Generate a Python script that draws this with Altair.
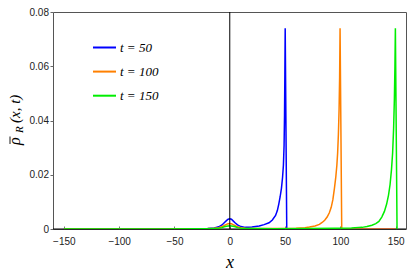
import altair as alt
import pandas as pd

series_names = ["t = 50", "t = 100", "t = 150"]
series_colors = ["#0000ff", "#ff8000", "#00ee00"]

xs_50 = [-150, -60, -30, -20, -14, -10, -7, -5, -3, -1.5, 0, 1.5, 3, 5, 7, 10, 14, 20,
         26.6, 31, 35.5, 38.5, 41.4, 43, 44.3, 45.5, 46.7, 47.7, 48.5, 49.1, 49.5, 49.8,
         50.1, 51.5, 60, 100, 150]
ys_50 = [0, 0.00005, 0.0001, 0.0002, 0.0004, 0.0008, 0.0015, 0.0023, 0.0031, 0.0036,
         0.0038, 0.0036, 0.0030, 0.0022, 0.0015, 0.0009, 0.0006, 0.0007, 0.0011, 0.0016,
         0.0023, 0.0033, 0.005, 0.0068, 0.0092, 0.0118, 0.015, 0.019, 0.0236, 0.031,
         0.042, 0.057, 0.074, 0, 0, 0, 0]

xs_100 = [-150, -60, -30, -20, -14, -10, -7, -5, -3, -1.5, 0, 1.5, 3, 5, 7, 10, 14, 20,
          30, 45, 60, 68, 72, 77, 81, 83.5, 85.8, 88, 90, 91.7, 93.2, 94.6, 95.8, 96.8,
          97.5, 98.2, 98.8, 99.3, 99.7, 101.2, 110, 150]
ys_100 = [0, 0.00003, 0.00008, 0.00015, 0.0003, 0.0005, 0.0009, 0.0013, 0.0017, 0.0019,
          0.0020, 0.0019, 0.0016, 0.0012, 0.0008, 0.0005, 0.0003, 0.0002, 0.0002, 0.0002,
          0.0003, 0.0005, 0.0007, 0.0011, 0.0017, 0.0024, 0.0032, 0.0044, 0.006, 0.008,
          0.0108, 0.015, 0.019, 0.0235, 0.028, 0.035, 0.044, 0.056, 0.074, 0, 0, 0]

xs_150 = [-150, -60, -30, -20, -14, -10, -7, -5, -3, -1.5, 0, 1.5, 3, 5, 7, 10, 14, 20,
          40, 70, 95, 110, 119.7, 124, 128.5, 132, 134.8, 137.4, 139.8, 141.8, 143.5,
          144.9, 146.2, 147.2, 148.1, 148.8, 149.3, 149.7, 151.2]
ys_150 = [0, 0.00002, 0.00005, 0.0001, 0.0002, 0.0003, 0.0005, 0.0008, 0.001, 0.0011,
          0.0012, 0.0011, 0.001, 0.0008, 0.0005, 0.0003, 0.0002, 0.00015, 0.0001, 0.0002,
          0.0003, 0.0004, 0.0006, 0.0009, 0.0014, 0.002, 0.0028, 0.0044, 0.0065, 0.0092,
          0.0125, 0.0164, 0.022, 0.028, 0.037, 0.048, 0.06, 0.074, 0]

x_ticks = [-150, -100, -50, 0, 50, 100, 150]
y_ticks = [0, 0.02, 0.04, 0.06, 0.08]

rows = []
for name, xs, ys in zip(series_names, [xs_50, xs_100, xs_150], [ys_50, ys_100, ys_150]):
    for xv, yv in zip(xs, ys):
        rows.append({"series": name, "x": xv, "rho": yv})
df = pd.DataFrame(rows)

x_scale = alt.Scale(domain=[-159.8, 159.3], nice=False, zero=False)
y_scale = alt.Scale(domain=[0, 0.08], nice=False)

SANS = "Liberation Sans"
SERIF = "Liberation Serif"

base_x = alt.X(
    "x:Q", scale=x_scale,
    axis=alt.Axis(values=x_ticks, offset=-3, domain=False, tickSize=3, tickColor="#777",
                  labelPadding=7, labelFont=SANS, labelFontSize=10, labelColor="#222",
                  labelExpr="replace(datum.label, '-', '\u2212')",
                  grid=False, title="x", titleFont=SERIF, titleFontStyle="italic",
                  titleFontWeight="normal", titleFontSize=18, titleY=41,
                  titleBaseline="alphabetic", titleColor="#000"),
)
base_y = alt.Y(
    "rho:Q", scale=y_scale,
    axis=alt.Axis(values=y_ticks, domain=False, tickSize=3, tickColor="#666",
                  labelPadding=1.5, labelFont=SANS, labelFontSize=10, labelColor="#222",
                  labelExpr="datum.value == 0 ? '0' : format(datum.value, '.2f')",
                  grid=False, title=None),
)

hline = alt.Chart(pd.DataFrame({"rho": [0]})).mark_rule(color="black", strokeWidth=1).encode(
    y=alt.Y("rho:Q", scale=y_scale)
)

lines = alt.Chart(df).mark_line(strokeWidth=1.5, clip=True).encode(
    x=base_x,
    y=base_y,
    color=alt.Color(
        "series:N", sort=series_names,
        scale=alt.Scale(domain=series_names, range=series_colors),
        legend=alt.Legend(title=None, orient="none", legendX=39, legendY=23,
                          symbolType="stroke", symbolSize=529, symbolStrokeWidth=2,
                          labelFont=SERIF, labelFontStyle="italic", labelFontSize=13,
                          labelColor="#000", labelOffset=3, rowPadding=4.1, padding=0),
    ),
    order=alt.Order("x:Q"),
)

vline = alt.Chart(pd.DataFrame({"x": [0]})).mark_rule(color="black", strokeWidth=1).encode(
    x=alt.X("x:Q", scale=x_scale)
)

one = pd.DataFrame({"a": [0]})
t_rho = alt.Chart(one).mark_text(angle=270, align="left", baseline="alphabetic", font=SERIF,
                                 fontStyle="italic", fontSize=16, color="#000").encode(
    x=alt.value(-33), y=alt.value(133), text=alt.value("ρ"))
t_bar = alt.Chart(one).mark_rule(color="#000", strokeWidth=0.9).encode(
    x=alt.value(-43), y=alt.value(132), y2=alt.value(124.5))
t_sub = alt.Chart(one).mark_text(angle=270, align="left", baseline="alphabetic", font=SERIF,
                                 fontStyle="italic", fontSize=11, color="#000").encode(
    x=alt.value(-30.5), y=alt.value(121), text=alt.value("R"))
t_arg = alt.Chart(one).mark_text(angle=270, align="left", baseline="alphabetic", font=SERIF,
                                 fontStyle="italic", fontSize=15, color="#000").encode(
    x=alt.value(-33), y=alt.value(111), text=alt.value("(x, t)"))

chart = alt.layer(hline, lines, vline, t_rho, t_bar, t_sub, t_arg).properties(
    width=353, height=217,
    autosize=alt.AutoSizeParams(type="none"),
    padding={"left": 45, "top": 4, "right": 1, "bottom": 41},
).configure_view(stroke="#555", strokeWidth=1)

chart.save("out.html", embed_options={"renderer": "svg", "actions": False})
